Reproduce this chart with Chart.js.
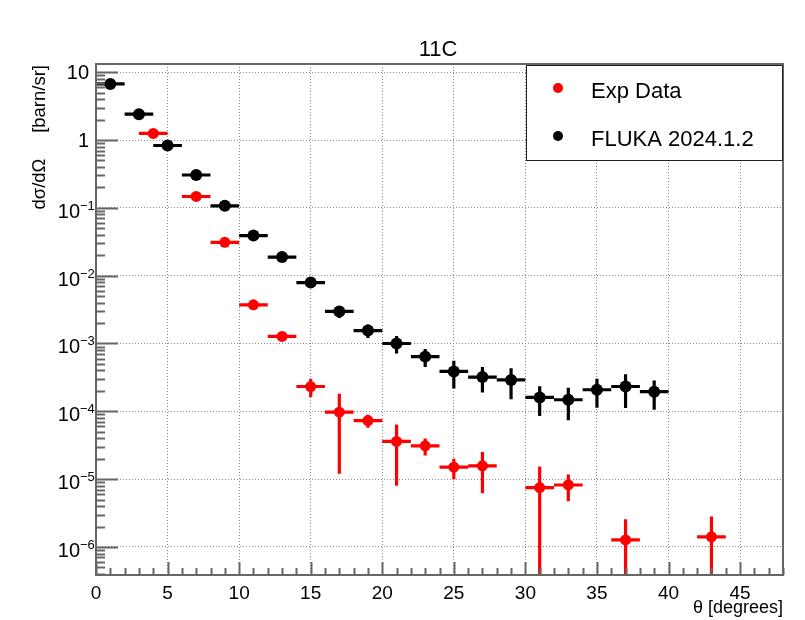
<!DOCTYPE html>
<html>
<head>
<meta charset="utf-8">
<title>11C</title>
<script src="https://cdn.jsdelivr.net/npm/chart.js@4.4.0/dist/chart.umd.min.js"></script>
<style>
  html, body { margin: 0; padding: 0; background: #fff; }
</style>
</head>
<body>
<canvas id="chart" width="805" height="620"></canvas>
<script>
// 11C angular distribution: experiment vs FLUKA

const FONT = '"Liberation Sans", Arial, Helvetica, sans-serif';

// FLUKA 2024.1.2 (2 degree bins)
const flukaAngle = [1, 3, 5, 7, 9, 11, 13, 15, 17, 19, 21, 23, 25, 27, 29, 31, 33, 35, 37, 39];
const flukaValue = [6.7, 2.4, 0.83, 0.305, 0.107, 0.039, 0.0188, 0.0079, 0.00297, 0.00155,
  0.00100, 6.4e-4, 3.87e-4, 3.2e-4, 2.9e-4, 1.6e-4, 1.48e-4, 2.08e-4, 2.32e-4, 1.95e-4];
const flukaError = [0.2, 0.08, 0.03, 0.012, 0.005, 0.002, 0.001, 0.0011, 0.0006, 0.00035,
  0.00029, 0.00019, 0.00017, 0.00013, 0.00014, 7.5e-5, 7.4e-5, 9.5e-5, 1.2e-4, 9e-5];

// Exp Data
const expAngle = [4, 7, 9, 11, 13, 15, 17, 19, 21, 23, 25, 27, 31, 33, 37, 43];
const expValue = [1.25, 0.147, 0.031, 0.00372, 0.00127, 2.32e-4, 9.7e-5, 7.3e-5, 3.6e-5,
  3.1e-5, 1.5e-5, 1.57e-5, 7.5e-6, 8.2e-6, 1.27e-6, 1.41e-6];
const expError = [0.05, 0.006, 0.0015, 0.0002, 0.00008, 7e-5, 8.5e-5, 1.6e-5, 2.8e-5,
  8.7e-6, 5e-6, 9.5e-6, 7.8e-6, 3.5e-6, 1.3e-6, 1.4e-6];

const binHalfWidth = 1;

// axis ticks
const xMajorTicks = [0, 5, 10, 15, 20, 25, 30, 35, 40, 45];
const yDecades = [-6, -5, -4, -3, -2, -1, 0, 1];

function toPoints(xs, ys) {
  return xs.map((x, i) => ({ x: x, y: ys[i] }));
}

// ROOT-like decorations: error bars, inward ticks, frame, labels, legend
const rootStyle = {
  id: "rootStyle",
  beforeDatasetsDraw(chart) {
    const ctx = chart.ctx;
    const area = chart.chartArea;
    const xs = chart.scales.x;
    const ys = chart.scales.y;
    ctx.save();
    ctx.beginPath();
    ctx.rect(area.left, area.top, area.right - area.left, area.bottom - area.top);
    ctx.clip();
    chart.data.datasets.forEach((ds) => {
      ctx.strokeStyle = ds.backgroundColor;
      ctx.lineWidth = 3.2;
      ds.data.forEach((p, i) => {
        const err = ds.errors[i];
        const px = xs.getPixelForValue(p.x);
        const py = ys.getPixelForValue(p.y);
        const top = ys.getPixelForValue(p.y + err);
        const low = p.y - err;
        const bottom = low > 0 ? ys.getPixelForValue(low) : area.bottom + 5;
        ctx.beginPath();
        ctx.moveTo(xs.getPixelForValue(p.x - binHalfWidth), py);
        ctx.lineTo(xs.getPixelForValue(p.x + binHalfWidth), py);
        ctx.moveTo(px, top);
        ctx.lineTo(px, bottom);
        ctx.stroke();
      });
    });
    ctx.restore();
  },
  afterDraw(chart) {
    const ctx = chart.ctx;
    const area = chart.chartArea;
    const xs = chart.scales.x;
    const ys = chart.scales.y;
    ctx.save();

    // inward ticks
    ctx.strokeStyle = "#666";
    ctx.lineWidth = 2;
    ctx.beginPath();
    for (let k = -7; k <= 1; k++) {
      for (let m = 1; m <= 9; m++) {
        const v = m * Math.pow(10, k);
        if (v < ys.min || v > ys.max) continue;
        const y = Math.round(ys.getPixelForValue(v)) + 0.5;
        ctx.moveTo(area.left, y);
        ctx.lineTo(area.left + (m === 1 ? 22 : 9), y);
      }
    }
    for (let v = 0; v <= xs.max; v++) {
      const x = Math.round(xs.getPixelForValue(v)) + 0.5;
      ctx.moveTo(x, area.bottom);
      ctx.lineTo(x, area.bottom - (v % 5 === 0 ? 13 : 7));
    }
    ctx.stroke();

    // frame
    ctx.strokeRect(area.left, area.top, area.right - area.left, area.bottom - area.top);

    // y tick labels
    ctx.fillStyle = "#000";
    ctx.textBaseline = "alphabetic";
    yDecades.forEach((k) => {
      const y = ys.getPixelForValue(Math.pow(10, k));
      ctx.font = "20px " + FONT;
      if (k === 1 || k === 0) {
        ctx.textAlign = "right";
        ctx.fillText(k === 1 ? "10" : "1", 89, y + 7);
      } else {
        ctx.textAlign = "right";
        ctx.fillText("10", 80, y + 10);
        ctx.font = "13px " + FONT;
        ctx.textAlign = "left";
        ctx.fillText("\u2212" + (-k), 80, y + 2);
      }
    });

    // title
    ctx.font = "22px " + FONT;
    ctx.textAlign = "center";
    ctx.fillText("11C", 438, 56);

    // x title
    ctx.font = "18px " + FONT;
    ctx.textAlign = "right";
    ctx.fillText("\u03b8 [degrees]", area.right, 613);

    // y title
    ctx.save();
    ctx.translate(40, area.top + 1);
    ctx.rotate(-Math.PI / 2);
    ctx.textAlign = "right";
    ctx.textBaseline = "middle";
    ctx.font = "18.5px " + FONT;
    ctx.fillText("d\u03c3/d\u03a9     [barn/sr]", 0, 0);
    ctx.restore();

    // legend
    ctx.fillStyle = "#fff";
    ctx.fillRect(526, 65, 257, 96);
    ctx.strokeStyle = "#222";
    ctx.lineWidth = 1;
    ctx.strokeRect(526.5, 65.5, 256, 95);
    const entries = [
      { label: "Exp Data", color: "#ff0000", y: 98 },
      { label: "FLUKA 2024.1.2", color: "#000", y: 146 },
    ];
    entries.forEach((e) => {
      ctx.fillStyle = e.color;
      ctx.beginPath();
      ctx.arc(558, e.y - 10, 5, 0, Math.PI * 2);
      ctx.fill();
      ctx.fillStyle = "#000";
      ctx.font = "22px " + FONT;
      ctx.textAlign = "left";
      ctx.textBaseline = "alphabetic";
      ctx.fillText(e.label, 591, e.y);
    });

    ctx.restore();
  },
};

const gridStyle = { color: "#888", lineWidth: 1, drawTicks: false };

new Chart(document.getElementById("chart"), {
  type: "scatter",
  data: {
    datasets: [
      {
        label: "Exp Data",
        data: toPoints(expAngle, expValue),
        errors: expError,
        backgroundColor: "#ff0000",
        borderColor: "#ff0000",
        pointRadius: 5.5,
        pointHoverRadius: 5.5,
        borderWidth: 0,
      },
      {
        label: "FLUKA 2024.1.2",
        data: toPoints(flukaAngle, flukaValue),
        errors: flukaError,
        backgroundColor: "#000000",
        borderColor: "#000000",
        pointRadius: 6,
        pointHoverRadius: 6,
        borderWidth: 0,
      },
    ],
  },
  options: {
    responsive: false,
    animation: false,
    events: [],
    layout: { padding: { top: 64, right: 22, left: 0, bottom: 0 } },
    plugins: {
      legend: { display: false },
      title: { display: false },
      tooltip: { enabled: false },
    },
    scales: {
      x: {
        type: "linear",
        min: 0,
        max: 48,
        afterBuildTicks: (s) => {
          s.ticks = xMajorTicks.map((v) => ({ value: v }));
        },
        afterFit: (s) => {
          s.height = 45;
        },
        grid: gridStyle,
        border: { display: false, dash: [1, 2] },
        ticks: {
          color: "#000",
          font: { family: FONT, size: 19 },
          padding: 7,
          maxRotation: 0,
        },
      },
      y: {
        type: "logarithmic",
        min: 3.86e-7,
        max: 13.2,
        afterBuildTicks: (s) => {
          s.ticks = yDecades.map((k) => ({ value: Math.pow(10, k) }));
        },
        afterFit: (s) => {
          s.width = 96;
        },
        grid: gridStyle,
        border: { display: false, dash: [1, 2] },
        ticks: { display: false },
      },
    },
  },
  plugins: [rootStyle],
});
</script>
</body>
</html>
